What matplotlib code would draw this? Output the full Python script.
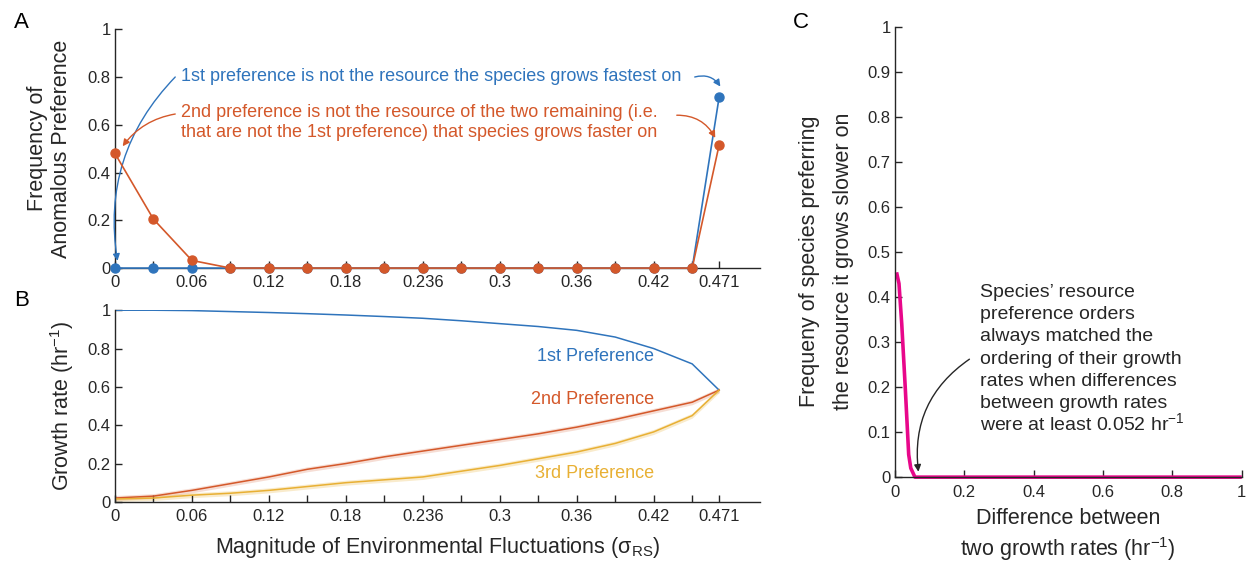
import matplotlib
matplotlib.use("Agg")
import matplotlib.pyplot as plt
import numpy as np

plt.rcParams['font.family'] = ['Liberation Sans', 'DejaVu Sans']
plt.rcParams['mathtext.fontset'] = 'custom'
plt.rcParams['mathtext.rm'] = 'Liberation Sans'
plt.rcParams['mathtext.default'] = 'regular'

# magnitude of environmental fluctuations
sigma = [0, 0.03, 0.06, 0.09, 0.12, 0.15, 0.18, 0.21, 0.24, 0.27, 0.30,
         0.33, 0.36, 0.39, 0.42, 0.45, 0.471]
tick_labels = ['0', '', '0.06', '', '0.12', '', '0.18', '', '0.236', '', '0.3',
               '', '0.36', '', '0.42', '', '0.471']

# panel A: frequency of anomalous preference
anom_1st = [0, 0, 0, 0, 0, 0, 0, 0, 0, 0, 0, 0, 0, 0, 0, 0, 0.715]
anom_2nd = [0.48, 0.205, 0.032, 0, 0, 0, 0, 0, 0, 0, 0, 0, 0, 0, 0, 0, 0.515]

# panel B: growth rates
growth_1st = [1.0, 1.0, 0.998, 0.993, 0.988, 0.982, 0.975, 0.967, 0.958, 0.945,
              0.93, 0.915, 0.895, 0.86, 0.80, 0.72, 0.583]
growth_2nd = [0.02, 0.03, 0.06, 0.095, 0.13, 0.17, 0.20, 0.235, 0.265, 0.295,
              0.325, 0.355, 0.39, 0.43, 0.475, 0.52, 0.583]
growth_3rd = [0.015, 0.02, 0.035, 0.045, 0.06, 0.08, 0.10, 0.115, 0.13, 0.16,
              0.19, 0.225, 0.26, 0.305, 0.365, 0.45, 0.583]
band = 0.013

# panel C
diff = [0.005, 0.012, 0.02, 0.03, 0.04, 0.046, 0.058, 0.1, 0.4, 0.7, 1.0]
freq_slow = [0.455, 0.43, 0.34, 0.2, 0.05, 0.02, 0, 0, 0, 0, 0]
note_lines = ['Species\u2019 resource', 'preference orders', 'always matched the',
              'ordering of their growth', 'rates when differences',
              'between growth rates', 'were at least 0.052 hr$^{-1}$']

BLUE = '#2F74BC'
ORANGE = '#D4582A'
YELLOW = '#E8B034'
MAGENTA = '#E8078A'
DARK = '#262626'

TICK = 12
LAB = 15.5
NOTE = 13

fig = plt.figure(figsize=(12.48, 5.62), dpi=100)
axA = fig.add_axes([0.0921, 0.523, 0.517, 0.425])
axB = fig.add_axes([0.0921, 0.107, 0.517, 0.341])
axC = fig.add_axes([0.717, 0.151, 0.278, 0.801])


def style(ax):
    for s in ['top', 'right']:
        ax.spines[s].set_visible(False)
    for s in ['left', 'bottom']:
        ax.spines[s].set_color(DARK)
        ax.spines[s].set_linewidth(1.0)
    ax.tick_params(direction='in', length=5, color=DARK, labelcolor=DARK,
                   labelsize=TICK, width=1)


def yfmt(v):
    return '%g' % v


for ax in (axA, axB):
    style(ax)
    ax.set_xlim(0, 0.503)
    ax.set_ylim(0, 1)
    ax.set_xticks(sigma)
    ax.set_xticklabels(tick_labels)
    yt = [0, 0.2, 0.4, 0.6, 0.8, 1]
    ax.set_yticks(yt)
    ax.set_yticklabels([yfmt(v) for v in yt])
    ax.tick_params(axis='x', pad=5)
    ax.tick_params(axis='y', pad=3)

# ---- A
axA.plot(sigma, anom_1st, '-o', color=BLUE, ms=6.5, lw=1.2, clip_on=False, zorder=3)
axA.plot(sigma, anom_2nd, '-o', color=ORANGE, ms=6.5, lw=1.2, clip_on=False, zorder=4)
axA.set_ylabel('Frequency of\nAnomalous Preference', fontsize=LAB, color=DARK)
axA.yaxis.set_label_coords(-0.067, 0.5)
axA.text(0.0515, 0.80, '1st preference is not the resource the species grows fastest on',
         color=BLUE, fontsize=NOTE, va='center')
axA.text(0.0515, 0.61, '2nd preference is not the resource of the two remaining (i.e.\n'
         'that are not the 1st preference) that species grows faster on',
         color=ORANGE, fontsize=NOTE, va='center', linespacing=1.2)
aprops = dict(arrowstyle='-|>', lw=1.0, mutation_scale=10, shrinkA=0, shrinkB=0)
axA.annotate('', xy=(0.002, 0.03), xytext=(0.047, 0.80),
             arrowprops=dict(aprops, color=BLUE, connectionstyle='arc3,rad=0.25'))
axA.annotate('', xy=(0.472, 0.76), xytext=(0.452, 0.80),
             arrowprops=dict(aprops, color=BLUE, connectionstyle='arc3,rad=-0.35'))
axA.annotate('', xy=(0.006, 0.51), xytext=(0.047, 0.645),
             arrowprops=dict(aprops, color=ORANGE, connectionstyle='arc3,rad=0.2'))
axA.annotate('', xy=(0.468, 0.545), xytext=(0.438, 0.64),
             arrowprops=dict(aprops, color=ORANGE, connectionstyle='arc3,rad=-0.3'))

# ---- B
g2 = np.array(growth_2nd)
g3 = np.array(growth_3rd)
axB.fill_between(sigma, g2 - band, g2 + band, color=ORANGE, alpha=0.2, lw=0)
axB.fill_between(sigma, g3 - band, g3 + band, color=YELLOW, alpha=0.25, lw=0)
axB.plot(sigma, growth_1st, color=BLUE, lw=1.1)
axB.plot(sigma, growth_2nd, color=ORANGE, lw=1.1)
axB.plot(sigma, growth_3rd, color=YELLOW, lw=1.1)
axB.text(0.42, 0.76, '1st Preference', color=BLUE, fontsize=NOTE, ha='right', va='center')
axB.text(0.42, 0.535, '2nd Preference', color=ORANGE, fontsize=NOTE, ha='right', va='center')
axB.text(0.42, 0.15, '3rd Preference', color=YELLOW, fontsize=NOTE, ha='right', va='center')
axB.set_ylabel('Growth rate (hr$^{-1}$)', fontsize=LAB, color=DARK)
axB.yaxis.set_label_coords(-0.06, 0.5)
axB.set_xlabel(r'Magnitude of Environmental Fluctuations ($\sigma_{RS}$)', fontsize=LAB,
               color=DARK)
axB.xaxis.set_label_coords(0.5, -0.175)

# ---- C
style(axC)
axC.plot(diff, freq_slow, color=MAGENTA, lw=2.6, clip_on=False, solid_capstyle='butt')
axC.set_xlim(0, 1)
axC.set_ylim(0, 1)
xt = [0, 0.2, 0.4, 0.6, 0.8, 1]
axC.set_xticks(xt)
axC.set_xticklabels([yfmt(v) for v in xt])
yt = [0, 0.1, 0.2, 0.3, 0.4, 0.5, 0.6, 0.7, 0.8, 0.9, 1]
axC.set_yticks(yt)
axC.set_yticklabels([yfmt(v) for v in yt])
axC.tick_params(axis='x', pad=6)
axC.tick_params(axis='y', pad=3)
axC.set_ylabel('Frequeny of species preferring\nthe resource it grows slower on',
               fontsize=LAB, color=DARK, linespacing=1.8)
axC.yaxis.set_label_coords(-0.118, 0.48)
axC.set_xlabel('Difference between\ntwo growth rates (hr$^{-1}$)', fontsize=LAB,
               color=DARK, linespacing=1.3)
axC.xaxis.set_label_coords(0.5, -0.068)
for i, line in enumerate(note_lines):
    axC.text(0.245, 0.40 - i * 0.0493, line, fontsize=14, color=DARK, va='baseline')
axC.annotate('', xy=(0.068, 0.012), xytext=(0.215, 0.262),
             arrowprops=dict(aprops, color=DARK, connectionstyle='arc3,rad=0.3'))

fig.text(0.011, 0.96, 'A', fontsize=16, color='black', va='center')
fig.text(0.011, 0.466, 'B', fontsize=16, color='black', va='center')
fig.text(0.635, 0.96, 'C', fontsize=16, color='black', va='center')

fig.savefig('out.png', dpi=100)
